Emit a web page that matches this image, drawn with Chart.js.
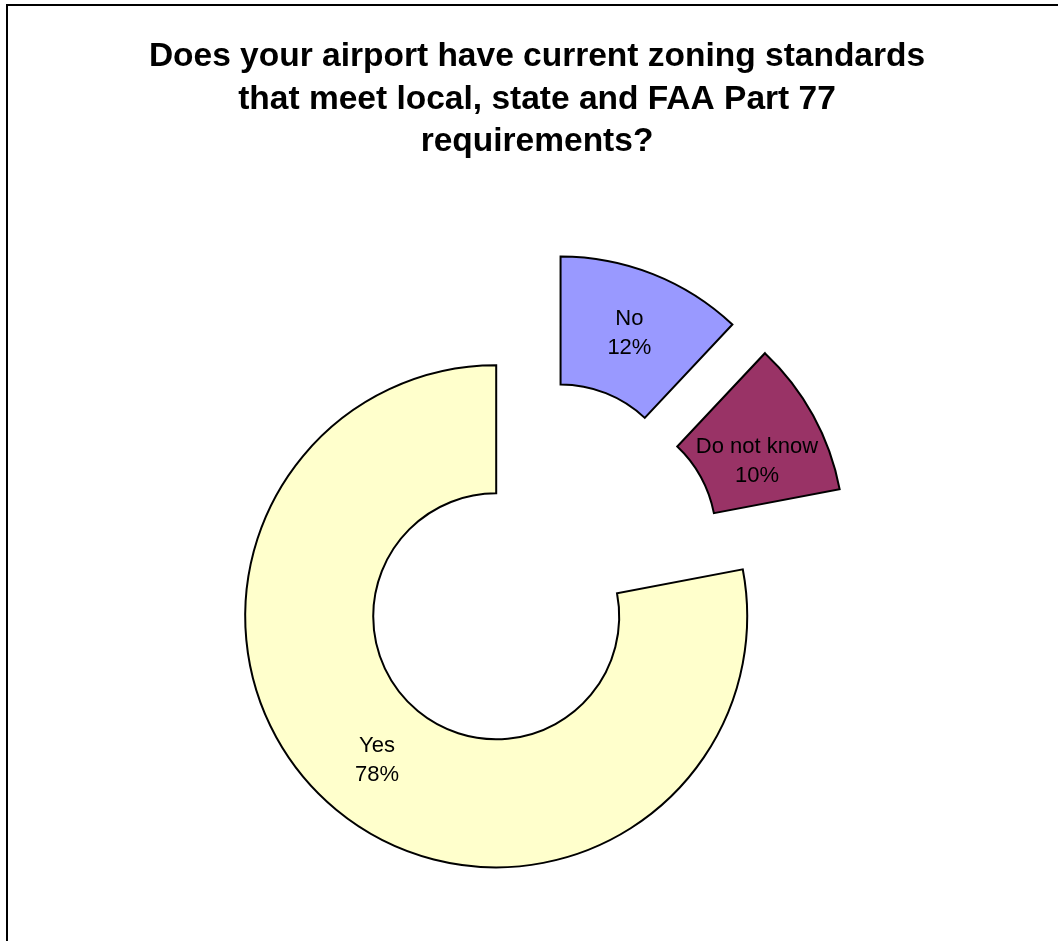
<!DOCTYPE html>
<html>
<head>
<meta charset="utf-8">
<title>Airport zoning standards</title>
<script src="https://cdn.jsdelivr.net/npm/chart.js@4/dist/chart.umd.min.js"></script>
<style>
  html, body { margin: 0; padding: 0; background: #fff; overflow: hidden; }
  #frame {
    position: absolute; left: 6px; top: 4px; width: 1100px; height: 1000px;
    border: 2px solid #000; box-sizing: border-box;
  }
  #wrap { position: absolute; left: 0; top: 0; width: 1058px; height: 941px; }
</style>
</head>
<body>
<div id="frame"></div>
<div id="wrap"><canvas id="chart"></canvas></div>
<script>
/* Survey doughnut: zoning standards vs local/state/FAA Part 77, every slice pulled out */

const TITLE_LINES = [
  "Does your airport have current zoning standards",
  "that meet local, state and FAA Part 77",
  "requirements?",
];
const CATEGORIES = ["No", "Do not know", "Yes"];
const PERCENTS = [12, 10, 78];
const FILLS = ["#9999FF", "#993366", "#FFFFCC"];

const FONT = "'Liberation Sans', Arial, sans-serif";
const EXPLODE = 64; // px each slice is pushed out along its mid angle

// draws the arcs shifted outwards, then the two-line labels on each slice
const explodePlugin = {
  id: "explode",
  beforeDatasetsDraw(chart) {
    const ctx = chart.ctx;
    const arcs = chart.getDatasetMeta(0).data;
    arcs.forEach((arc) => {
      const mid = (arc.startAngle + arc.endAngle) / 2;
      ctx.save();
      ctx.translate(Math.cos(mid) * EXPLODE, Math.sin(mid) * EXPLODE);
      arc.draw(ctx);
      ctx.restore();
    });
    ctx.save();
    ctx.font = `22px ${FONT}`;
    ctx.fillStyle = "#000";
    ctx.textAlign = "center";
    ctx.textBaseline = "middle";
    arcs.forEach((arc, i) => {
      const mid = (arc.startAngle + arc.endAngle) / 2;
      const r = EXPLODE + (arc.innerRadius + arc.outerRadius) / 2;
      const x = arc.x + Math.cos(mid) * r;
      // the narrow "Do not know" slice keeps its label a bit lower, nearer the wide end
      const y = arc.y + Math.sin(mid) * r + (CATEGORIES[i] === "Do not know" ? 15 : 0);
      ctx.fillText(CATEGORIES[i], x, y - 14.5);
      ctx.fillText(`${PERCENTS[i]}%`, x, y + 14.5);
    });
    ctx.restore();
    return false;
  },
};

new Chart(document.getElementById("chart"), {
  type: "doughnut",
  data: {
    labels: CATEGORIES,
    datasets: [
      {
        data: PERCENTS,
        backgroundColor: FILLS,
        borderColor: "#000",
        borderWidth: 2,
        borderJoinStyle: "miter",
      },
    ],
  },
  options: {
    responsive: true,
    maintainAspectRatio: false,
    animation: false,
    radius: 251,
    cutout: "49%",
    layout: { padding: { left: 16, right: 0, top: 0, bottom: 0 } },
    plugins: {
      legend: { display: false },
      tooltip: { enabled: false },
      title: {
        display: true,
        text: TITLE_LINES,
        color: "#000",
        font: { family: FONT, size: 33.5, weight: "bold", lineHeight: 1.269 },
        padding: { top: 35.5, bottom: 30 },
      },
    },
  },
  plugins: [explodePlugin],
});
</script>
</body>
</html>
